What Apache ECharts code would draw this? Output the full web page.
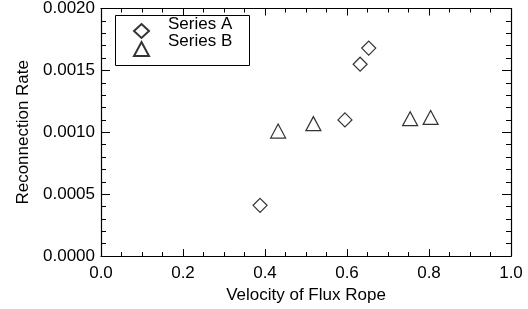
<!DOCTYPE html>
<html lang="en">
<head>
    <meta charset="UTF-8">
    <title>Reconnection Rate</title>
    <style>
        html, body { margin: 0; padding: 0; background: #fff; }
        #box { width: 528px; height: 309px; }
    </style>
</head>
<body>
    <div id="box"></div>
    <script src="https://cdn.jsdelivr.net/npm/echarts@6/dist/echarts.min.js"></script>
    <script>
        // values
        var seriesNames = ['Series A', 'Series B'];
        var velocityA = [0.388, 0.595, 0.632, 0.653];
        var rateA = [0.00041, 0.00110, 0.00155, 0.00168];
        var velocityB = [0.432, 0.518, 0.754, 0.804];
        var rateB = [0.00101, 0.00107, 0.00111, 0.00112];

        var font = 'Liberation Sans';

        function pairs(xs, ys) {
            return xs.map(function (x, i) { return [x, ys[i]]; });
        }

        // shared axis look, ticks pointing inside like the original
        function xAx(extra) {
            return Object.assign({
                type: 'value', min: 0, max: 1, interval: 0.2,
                axisLine: { onZero: false, lineStyle: { color: '#000', width: 1.2 } },
                axisTick: { inside: true, length: 7, lineStyle: { color: '#000' } },
                minorTick: { show: true, splitNumber: 4, length: 4, lineStyle: { color: '#000' } },
                splitLine: { show: false }
            }, extra);
        }
        function yAx(extra) {
            return Object.assign({
                type: 'value', min: 0, max: 0.002, interval: 0.0005,
                axisLine: { onZero: false, lineStyle: { color: '#000', width: 1.2 } },
                axisTick: { inside: true, length: 9, lineStyle: { color: '#000' } },
                minorTick: { show: true, splitNumber: 5, length: 5, lineStyle: { color: '#000' } },
                splitLine: { show: false }
            }, extra);
        }

        var chart = echarts.init(document.getElementById('box'));
        var option = {
            animation: false,
            textStyle: { fontFamily: font },
            grid: { left: 101, right: 17, top: 8, bottom: 49 },
            xAxis: [
                xAx({
                    position: 'bottom',
                    name: 'Velocity of Flux Rope', nameLocation: 'middle', nameGap: 29,
                    nameTextStyle: { color: '#000', fontSize: 17, fontFamily: font },
                    axisLabel: { color: '#000', fontSize: 17, margin: 9, formatter: function (v) { return v.toFixed(1); } }
                }),
                xAx({ position: 'top', axisLabel: { show: false } })
            ],
            yAxis: [
                yAx({
                    position: 'left',
                    name: 'Reconnection Rate', nameLocation: 'middle', nameGap: 69,
                    nameTextStyle: { color: '#000', fontSize: 17, fontFamily: font },
                    axisLabel: { color: '#000', fontSize: 17, margin: 6, formatter: function (v) { return v.toFixed(4); } }
                }),
                yAx({ position: 'right', axisLabel: { show: false } })
            ],
            // symbols sit a little below their labels in the original, so two legends
            legend: [
                {
                    orient: 'vertical', left: 133, top: 23, padding: 0,
                    itemWidth: 15, itemHeight: 14, itemGap: 2,
                    selectedMode: false,
                    formatter: function () { return ''; },
                    data: seriesNames
                },
                {
                    orient: 'vertical', left: 162, top: 16, padding: 0,
                    itemWidth: 0, itemHeight: 0, itemGap: 0,
                    selectedMode: false,
                    textStyle: { color: '#000', fontSize: 17, lineHeight: 17, fontFamily: font },
                    data: seriesNames
                }
            ],
            graphic: [{
                type: 'rect', left: 113, top: 13,
                shape: { width: 134, height: 50 },
                style: { fill: 'none', stroke: '#000', lineWidth: 1 }
            }],
            series: [
                {
                    name: seriesNames[0], type: 'scatter',
                    symbol: 'diamond', symbolSize: [14, 14],
                    itemStyle: { color: 'rgba(0,0,0,0)', borderColor: '#000', borderWidth: 1.2 },
                    data: pairs(velocityA, rateA)
                },
                {
                    name: seriesNames[1], type: 'scatter',
                    symbol: 'triangle', symbolSize: [15, 14],
                    itemStyle: { color: 'rgba(0,0,0,0)', borderColor: '#000', borderWidth: 1.2 },
                    data: pairs(velocityB, rateB)
                }
            ]
        };
        chart.setOption(option);
    </script>
</body>
</html>
